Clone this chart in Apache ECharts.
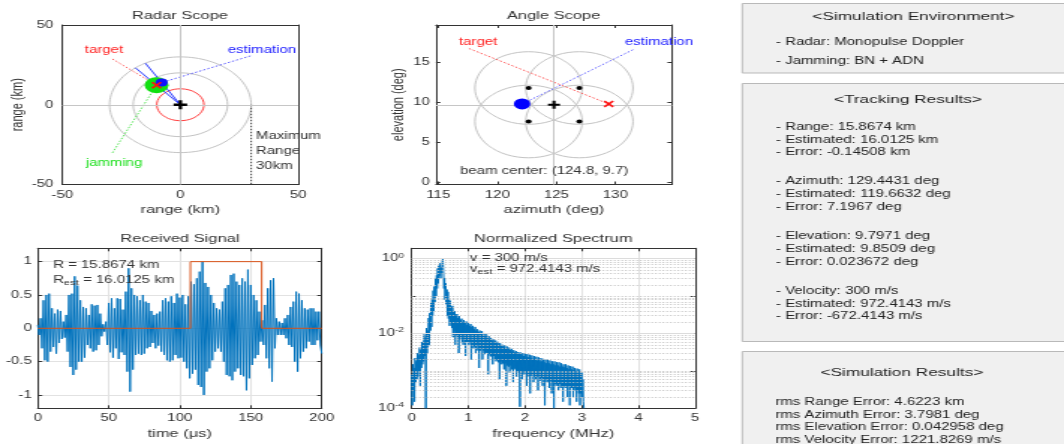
<!DOCTYPE html>
<html>
<head>
<meta charset="utf-8">
<title>Monopulse radar tracking</title>
<script src="https://cdn.jsdelivr.net/npm/echarts@6.0.0/dist/echarts.min.js"></script>
<style>
html, body { margin: 0; padding: 0; background: #fff; overflow: hidden; }
/* the source figure is stretched 1.5x horizontally, so draw at 710 wide and stretch */
#main { position: absolute; left: 0; top: 0; width: 710px; height: 444px; transform: scaleX(1.49859); transform-origin: 0 0; }
</style>
</head>
<body>
<div id="main"></div>
<script>
var FONT = '"Liberation Sans", Arial, sans-serif';
var INK = '#333333';

// ---- radar scope (km, deg) ----
var rangeRings = [10, 20, 30];
var ringColors = ['#ff4040', '#c4c4c4', '#c4c4c4'];
var maxRange = 30;
var radarLim = 50;
var targetRange = 15.8674, targetAz = 129.4431;
var estRange = 16.0125, estAz = 119.6632;

// ---- angle scope (deg) ----
var beamCenter = [124.8, 9.7];
var beamSquint = [[-2.15, 2.1], [2.15, 2.1], [-2.15, -2.1], [2.15, -2.1]];
var beamRadius = 4.55;
var angleTarget = [129.4431, 9.7971];
var angleEst = [122.1, 9.8];

// ---- received signal, one sample per us ----
var sigDt = 1;
var signal = [
  0.05, -0.1, 0.15, -0.3, 0.42, -0.48, 0.5, -0.5, 0.52, -0.35,
  0.3, -0.28, 0.22, -0.38, 0.28, -0.22, 0.26, -0.16, 0.1, -0.14,
  0.2, -0.35, 0.5, -0.58, 0.52, -0.7, 0.78, -0.62, 0.64, -0.5,
  0.42, -0.5, 0.32, -0.44, 0.3, -0.25, 0.2, -0.3, 0.36, -0.35,
  0.34, -0.33, 0.35, -0.25, 0.22, -0.12, 0.06, -0.05, 0.1, -0.25,
  0.38, -0.36, 0.45, -0.44, 0.3, -0.3, 0.45, -0.46, 0.44, -0.36,
  0.28, -0.4, 0.55, -0.65, 0.9, -0.95, 0.6, -0.62, 0.5, -0.4,
  0.48, -0.38, 0.42, -0.4, 0.5, -0.38, 0.4, -0.3, 0.38, -0.28,
  0.26, -0.22, 0.2, -0.3, 0.22, -0.26, 0.25, -0.35, 0.42, -0.4,
  0.45, -0.48, 0.4, -0.5, 0.48, -0.48, 0.38, -0.4, 0.52, -0.45,
  0.46, -0.44, 0.5, -0.5, 0.36, -0.6, 0.48, -0.75, 0.7, -0.68,
  0.66, -0.62, 0.75, -0.85, 0.85, -0.88, 1.0, -1.0, 0.68, -0.65,
  0.62, -0.6, 0.5, -0.48, 0.38, -0.35, 0.3, -0.3, 0.28, -0.35,
  0.4, -0.5, 0.6, -0.7, 0.65, -0.72, 0.8, -0.78, 0.82, -0.65,
  0.7, -0.6, 0.65, -0.7, 0.75, -0.72, 0.7, -0.93, 0.88, -0.75,
  0.65, -0.55, 0.5, -0.45, 0.42, -0.4, 0.25, -0.2, 0.12, -0.25,
  0.35, -0.45, 0.6, -0.6, 0.72, -0.8, 0.75, -0.3, 0.15, -0.1,
  0.1, -0.1, 0.08, -0.1, 0.15, -0.15, 0.2, -0.25, 0.32, -0.28,
  0.4, -0.5, 0.55, -0.65, 0.52, -0.45, 0.42, -0.35, 0.3, -0.3,
  0.28, -0.2, 0.3, -0.25, 0.3, -0.25, 0.25, -0.18, 0.25, -0.25,
  -0.38
];
var pulseOn = 107.5, pulseOff = 157.7, sigEnd = 200;

// ---- normalized spectrum, every 0.01 MHz ----
var specDf = 0.01;
var spectrum = [
  8e-4, 1.2e-4, 1.5e-3, 3e-4, 1.2e-3, 1.5e-4, 2.2e-3, 5e-4, 1.8e-3, 6e-4,
  3e-3, 7e-4, 2.6e-3, 1e-3, 4.2e-3, 4e-4, 3.6e-3, 1.2e-3, 5.8e-3, 1.5e-3,
  6e-3, 1.8e-3, 9.5e-3, 2.5e-3, 8e-3, 1e-4, 1.4e-2, 3e-3, 1.2e-2, 4.5e-3,
  2.6e-2, 5e-3, 3.5e-2, 1.2e-2, 6.5e-2, 1.5e-2, 8e-2, 3e-2, 1.4e-1, 4e-2,
  1.8e-1, 7e-2, 3e-1, 1e-1, 3.6e-1, 1.6e-1, 5.5e-1, 2.2e-1, 6.5e-1, 3.5e-1,
  7.5e-1, 3e-1, 6e-1, 4e-1, 8.5e-1, 1.0, 4.5e-1, 1.6e-1, 3e-1, 8e-2,
  2.2e-1, 6e-2, 1.5e-1, 3e-2, 1.3e-1, 2.5e-2, 8e-2, 1.6e-2, 7.5e-2, 2e-2,
  5e-2, 1.4e-2, 5.5e-2, 8e-3, 4e-2, 1.2e-2, 4e-2, 5e-3, 3.2e-2, 9e-3,
  3.3e-2, 8e-3, 2.6e-2, 3e-3, 2.9e-2, 7e-3, 2.3e-2, 8e-3, 2.5e-2, 6e-3,
  2e-2, 5e-3, 2.3e-2, 7e-3, 1.9e-2, 2.5e-3, 2.1e-2, 6e-3, 1.7e-2, 6e-3,
  1.9e-2, 5e-3, 1.6e-2, 6e-3, 1.8e-2, 2e-3, 1.5e-2, 5e-3, 1.6e-2, 4e-3,
  1.3e-2, 4.5e-3, 1.5e-2, 3e-3, 1.2e-2, 5e-3, 1.3e-2, 3.5e-3, 1.1e-2, 1.2e-3,
  1.2e-2, 3.5e-3, 1e-2, 4e-3, 1.15e-2, 2e-3, 9e-3, 3.5e-3, 1e-2, 2.8e-3,
  8.5e-3, 3e-3, 9.5e-3, 3.2e-3, 7.5e-3, 8e-4, 8.5e-3, 2.8e-3, 7e-3, 2.5e-3,
  7.5e-3, 2.4e-3, 6.5e-3, 1.5e-3, 7e-3, 2.5e-3, 6e-3, 2e-3, 6.5e-3, 1.8e-3,
  5.5e-3, 2e-3, 6e-3, 1.7e-3, 5e-3, 6e-4, 5.5e-3, 1.8e-3, 4.6e-3, 1.5e-3,
  5e-3, 1.6e-3, 4.3e-3, 1.1e-3, 4.8e-3, 1.6e-3, 4e-3, 4e-4, 4.5e-3, 1.4e-3,
  3.8e-3, 1.3e-3, 4.2e-3, 9e-4, 3.6e-3, 1.4e-3, 3.9e-3, 1.1e-3, 3.3e-3, 5e-4,
  3.6e-3, 1.1e-3, 3.1e-3, 1.2e-3, 3.4e-3, 7e-4, 2.9e-3, 1e-3, 3.2e-3, 9e-4,
  2.8e-3, 1.1e-4, 3.1e-3, 1e-3, 2.6e-3, 6e-4, 3e-3, 9e-4, 2.5e-3, 8e-4,
  2.9e-3, 9e-4, 2.4e-3, 4e-4, 2.8e-3, 8e-4, 2.3e-3, 7e-4, 2.7e-3, 2.5e-4,
  2.2e-3, 7.5e-4, 2.6e-3, 8e-4, 2.1e-3, 5e-4, 2.5e-3, 7e-4, 2e-3, 6e-4,
  2.4e-3, 7e-4, 1.9e-3, 3e-4, 2.3e-3, 7e-4, 1.8e-3, 5.5e-4, 2.2e-3, 6.5e-4,
  1.8e-3, 4e-4, 2.1e-3, 6e-4, 1.7e-3, 1.2e-4, 2e-3, 6e-4, 1.6e-3, 5e-4,
  2e-3, 5.5e-4, 1.6e-3, 3.5e-4, 1.9e-3, 5.5e-4, 1.5e-3, 2.5e-4, 1.8e-3, 5e-4,
  1.5e-3, 1e-4, 1.8e-3, 4.5e-4, 1.4e-3, 4e-4, 1.7e-3, 4.5e-4, 1.4e-3, 3e-4,
  1.7e-3, 4.5e-4, 1.3e-3, 3.5e-4, 1.6e-3, 4e-4, 1.3e-3, 1.5e-4, 1.5e-3, 4e-4,
  1.25e-3, 3.5e-4, 1.5e-3, 4e-4, 1.2e-3, 2e-4, 1.4e-3, 4e-4, 1.1e-3, 1.2e-4,
  1.35e-3, 3.5e-4, 1.1e-3, 3.5e-4, 1.3e-3, 2e-4, 1.05e-3, 3.5e-4, 1.2e-3, 3e-4,
  1e-3, 1.5e-4, 1.15e-3, 3e-4, 9.5e-4, 2.5e-4, 1.1e-3, 1.2e-4, 8.5e-4, 2.5e-4,
  9e-4, 2e-4, 6e-4, 1.5e-4, 1e-4
];
var specMin = 1e-4, specMax = 1.9;

// ---- text panels ----
var envLines = ['- Radar: Monopulse Doppler', '- Jamming: BN + ADN'];
var trackGroups = [
  ['- Range: 15.8674 km', '- Estimated: 16.0125 km', '- Error: -0.14508 km'],
  ['- Azimuth: 129.4431 deg', '- Estimated: 119.6632 deg', '- Error: 7.1967 deg'],
  ['- Elevation: 9.7971 deg', '- Estimated: 9.8509 deg', '- Error: 0.023672 deg'],
  ['- Velocity: 300 m/s', '- Estimated: 972.4143 m/s', '- Error: -672.4143 m/s']
];
var rmsLines = ['rms Range Error: 4.6223 km', 'rms Azimuth Error: 3.7981 deg',
  'rms Elevation Error: 0.042958 deg', 'rms Velocity Error: 1221.8269 m/s'];

// ---------------------------------------------------------------
function rad(a) { return a * Math.PI / 180; }
function toXY(r, az) { return [r * Math.cos(rad(az)), r * Math.sin(rad(az))]; }
function circle(c, r) {
  var p = [];
  for (var a = 0; a <= 360; a += 3) p.push([c[0] + r * Math.cos(rad(a)), c[1] + r * Math.sin(rad(a))]);
  return p;
}
function merge(a, b) {
  var o = {}, k;
  for (k in a) o[k] = a[k];
  for (k in b) {
    if (b[k] && typeof b[k] === 'object' && !Array.isArray(b[k]) && typeof b[k] !== 'function' &&
        a[k] && typeof a[k] === 'object') o[k] = merge(a[k], b[k]);
    else o[k] = b[k];
  }
  return o;
}

var X_MARK = 'path://M0,1.6L1.6,0L5,3.4L8.4,0L10,1.6L6.6,5L10,8.4L8.4,10L5,6.6L1.6,10L0,8.4L3.4,5Z';
var PLUS = 'path://M3.7,0H6.3V3.7H10V6.3H6.3V10H3.7V6.3H0V3.7H3.7Z';

function frameAxis(gi, pos, labelled) {
  return {
    gridIndex: gi, type: 'value', position: pos,
    axisLine: { show: true, onZero: false, lineStyle: { color: INK, width: 1 } },
    axisTick: { show: true, inside: true, length: 3, lineStyle: { color: INK } },
    axisLabel: { show: labelled, color: INK, fontSize: 10, fontFamily: FONT, margin: 5 },
    splitLine: { show: false },
    nameLocation: 'middle', nameGap: 20,
    nameTextStyle: { color: INK, fontSize: 11, fontFamily: FONT }
  };
}
function scaleOnly(o) {
  var r = {};
  ['type', 'logBase', 'min', 'max', 'interval', 'splitNumber'].forEach(function (k) {
    if (o[k] !== undefined) r[k] = o[k];
  });
  return r;
}
var xAxes = [], yAxes = [];
function addAxes(gi, xo, yo) {
  xAxes.push(merge(frameAxis(gi, 'bottom', true), xo));
  xAxes.push(merge(frameAxis(gi, 'top', false), scaleOnly(xo)));
  yAxes.push(merge(frameAxis(gi, 'left', true), yo));
  yAxes.push(merge(frameAxis(gi, 'right', false), scaleOnly(yo)));
}
var gridLine = { show: true, showMinLine: false, showMaxLine: false, lineStyle: { color: '#e2e2e2', width: 1 } };

addAxes(0,
  { min: -radarLim, max: radarLim, interval: 50, name: 'range (km)', nameGap: 20, axisLabel: { margin: 6 } },
  { min: -radarLim, max: radarLim, interval: 50, name: 'range (km)', nameGap: 22, axisLabel: { margin: 6 } });
addAxes(1,
  { min: beamCenter[0] - 10, max: beamCenter[0] + 10, splitNumber: 4, name: 'azimuth (deg)', nameGap: 20,
    axisLabel: { showMinLabel: false, showMaxLabel: false, margin: 6 } },
  { min: beamCenter[1] - 10, max: beamCenter[1] + 10, splitNumber: 4, name: 'elevation (deg)', nameGap: 17,
    axisLabel: { showMinLabel: false, showMaxLabel: false, margin: 4 } });
addAxes(2,
  { min: 0, max: sigEnd, interval: 50, name: 'time (\u03bcs)', nameGap: 20, splitLine: gridLine },
  { min: -1.2, max: 1.2, splitNumber: 5, splitLine: gridLine,
    axisLabel: { showMinLabel: false, showMaxLabel: false, margin: 4 } });
addAxes(3,
  { min: 0, max: 5, interval: 1, name: 'frequency (MHz)', nameGap: 20, splitLine: gridLine },
  { type: 'log', logBase: 10, min: specMin, max: specMax,
    axisLabel: {
      showMaxLabel: false, margin: 5,
      formatter: function (v) {
        var e = Math.log10(v), r = Math.round(e);
        if (Math.abs(e - r) > 1e-6 || r % 2 !== 0) return '';
        return '10{sup|' + r + '}';
      },
      rich: { sup: { fontSize: 7, fontFamily: FONT, color: INK, padding: [0, 0, 6, 0] } }
    } });

function crosshair(list) {
  return { silent: true, symbol: 'none', label: { show: false },
    lineStyle: { color: '#c6c6c6', type: 'solid', width: 1 }, data: list };
}
function leader(ax, from, to, color) {
  return { type: 'line', xAxisIndex: ax, yAxisIndex: ax, data: [from, to], showSymbol: false, silent: true, z: 3,
    lineStyle: { color: color, width: 1, type: [1.5, 1.5], opacity: 0.8 } };
}
function marker(ax, pts, symbol, size, color, z) {
  return { type: 'scatter', xAxisIndex: ax, yAxisIndex: ax, data: pts, symbol: symbol, symbolSize: size,
    silent: true, z: z, itemStyle: { color: color, opacity: 1 } };
}

var series = [];
var tgtXY = toXY(targetRange, targetAz), estXY = toXY(estRange, estAz);

// radar scope
rangeRings.forEach(function (r, i) {
  var s = { type: 'line', xAxisIndex: 0, yAxisIndex: 0, data: circle([0, 0], r), showSymbol: false, silent: true,
    z: 2, lineStyle: { color: ringColors[i], width: 1 } };
  if (i === 0) s.markLine = crosshair([{ xAxis: 0 }, { yAxis: 0 }]);
  series.push(s);
});
series.push({ type: 'line', xAxisIndex: 0, yAxisIndex: 0, data: [[maxRange, 0], [maxRange, -radarLim]],
  showSymbol: false, silent: true, lineStyle: { color: '#444', width: 1, type: [1.5, 1.5] } });
[targetAz, estAz].forEach(function (az) {
  series.push({ type: 'line', xAxisIndex: 0, yAxisIndex: 0, data: [[0, 0], toXY(maxRange, az)],
    showSymbol: false, silent: true, z: 3, lineStyle: { color: '#2b3cff', width: 1 } });
});
series.push(leader(0, [-28.8, 28.7], tgtXY, '#ff3030'));
series.push(leader(0, [29.7, 30.6], estXY, '#3a3aff'));
series.push(leader(0, [-28.8, -30.2], tgtXY, '#30e030'));
series.push(marker(0, [tgtXY], 'circle', 16, '#11e011', 4));
series.push(marker(0, [estXY], 'circle', 8, '#1010ff', 5));
series.push(marker(0, [tgtXY], X_MARK, 7, '#ff1010', 6));
series.push(marker(0, [[0, 0]], PLUS, 9, '#000', 6));

// angle scope
beamSquint.forEach(function (o, i) {
  var s = { type: 'line', xAxisIndex: 2, yAxisIndex: 2,
    data: circle([beamCenter[0] + o[0], beamCenter[1] + o[1]], beamRadius),
    showSymbol: false, silent: true, z: 2, lineStyle: { color: '#c4c4c4', width: 1 } };
  if (i === 0) s.markLine = crosshair([{ xAxis: beamCenter[0] }, { yAxis: beamCenter[1] }]);
  series.push(s);
});
series.push(leader(2, [117.6, 16.75], angleTarget, '#ff3030'));
series.push(leader(2, [131.5, 16.6], angleEst, '#3a3aff'));
series.push(marker(2, beamSquint.map(function (o) { return [beamCenter[0] + o[0], beamCenter[1] + o[1]]; }),
  'circle', 4, '#000', 4));
series.push(marker(2, [beamCenter], PLUS, 8, '#000', 5));
series.push(marker(2, [angleEst], 'circle', 11, '#0000ff', 5));
series.push(marker(2, [angleTarget], X_MARK, 7, '#ff1010', 6));

// received signal + range gate
series.push({ type: 'line', xAxisIndex: 4, yAxisIndex: 4, showSymbol: false, silent: true, z: 2,
  data: signal.map(function (v, i) { return [i * sigDt, v]; }),
  lineStyle: { color: '#0072BD', width: 1 } });
series.push({ type: 'line', xAxisIndex: 4, yAxisIndex: 4, showSymbol: false, silent: true, z: 3,
  data: [[0, 0], [pulseOn, 0], [pulseOn, 1], [pulseOff, 1], [pulseOff, 0], [sigEnd, 0]],
  lineStyle: { color: '#D95319', width: 1 } });

// spectrum grid (major decades solid, minor dotted)
var specGrid = [];
[-4, -3, -2, -1, 0].forEach(function (e) {
  for (var k = 1; k <= 9; k++) {
    var v = k * Math.pow(10, e);
    if (v > specMax || v <= specMin) continue;
    var major = k === 1 && e % 2 === 0;
    specGrid.push({ yAxis: v, lineStyle: major ? { type: 'solid', color: '#dcdcdc' } : { type: [1, 1.5], color: '#c2c2c2' } });
  }
});
series.push({ type: 'line', xAxisIndex: 6, yAxisIndex: 6, data: [], z: 1, silent: true,
  markLine: { silent: true, precision: 10, symbol: 'none', label: { show: false }, lineStyle: { width: 1 }, data: specGrid } });
series.push({ type: 'line', xAxisIndex: 6, yAxisIndex: 6, showSymbol: false, silent: true, z: 2,
  data: spectrum.map(function (v, i) { return [i * specDf, v]; }),
  lineStyle: { color: '#0072BD', width: 1 } });

// ---- text & panels ----
function txt(x, y, s, o) {
  o = o || {};
  return { type: 'text', x: x, y: y, z: 100, silent: true,
    style: { text: s, fill: o.color || INK, font: (o.size || 10) + 'px ' + FONT,
      align: o.align || 'left', verticalAlign: 'middle', rich: o.rich } };
}
var subRich = { sub: { fontSize: 7.5, fontFamily: FONT, fill: INK, padding: [6, 0, 0, 0] } };
var g = [];
g.push(txt(120.1, 16, 'Radar Scope', { size: 11, align: 'center' }));
g.push(txt(369.4, 16, 'Angle Scope', { size: 11, align: 'center' }));
g.push(txt(120.1, 239, 'Received Signal', { size: 11, align: 'center' }));
g.push(txt(369.2, 238.5, 'Normalized Spectrum', { size: 11, align: 'center' }));

g.push(txt(69.4, 50, 'target', { color: '#ff2020', align: 'center' }));
g.push(txt(174.8, 50, 'estimation', { color: '#2020ff', align: 'center' }));
g.push(txt(76.1, 163, 'jamming', { color: '#20e020', align: 'center' }));
['Maximum', 'Range', maxRange + 'km'].forEach(function (s, i) { g.push(txt(170.8, 136 + i * 15, s)); });

g.push(txt(319, 42, 'target', { color: '#ff2020', align: 'center' }));
g.push(txt(439.7, 42, 'estimation', { color: '#2020ff', align: 'center' }));
g.push(txt(307, 171, 'beam center: (' + beamCenter[0] + ', ' + beamCenter[1] + ')'));

g.push(txt(35.4, 265.7, 'R = 15.8674 km'));
g.push(txt(35.4, 280, 'R{sub|est} = 16.0125 km', { rich: subRich }));
g.push(txt(313.6, 258.3, 'v = 300 m/s'));
g.push(txt(313.6, 268.8, 'v{sub|est} = 972.4143 m/s', { rich: subRich }));

function panel(y, h) {
  return { type: 'rect', shape: { x: 495.3, y: y, width: 230, height: h }, z: 50, silent: true,
    style: { fill: '#f0f0f0', stroke: '#b9b9b9', lineWidth: 1 } };
}
g.push(panel(3.5, 69.5));
g.push(panel(83.5, 258));
g.push(panel(351.5, 100));
g.push(txt(609.5, 17, '<Simulation Environment>', { size: 11.5, align: 'center', color: '#222' }));
envLines.forEach(function (s, i) { g.push(txt(517.8, 42 + i * 19, s, { color: '#222' })); });
g.push(txt(605.8, 100, '<Tracking Results>', { size: 11.5, align: 'center', color: '#222' }));
trackGroups.forEach(function (grp, gi) {
  grp.forEach(function (s, i) { g.push(txt(517.8, 127 + gi * 54.7 + i * 12.8, s, { color: '#222' })); });
});
g.push(txt(601.8, 373, '<Simulation Results>', { size: 11.5, align: 'center', color: '#222' }));
rmsLines.forEach(function (s, i) { g.push(txt(517.4, 402 + i * 12.8, s, { color: '#222' })); });

var chart = echarts.init(document.getElementById('main'));
chart.setOption({
  animation: false,
  backgroundColor: '#ffffff',
  grid: [
    { left: 41.6, top: 25, width: 157.5, height: 159.5, outerBoundsMode: 'none' },
    { left: 290.9, top: 25, width: 157.5, height: 159.5, outerBoundsMode: 'none' },
    { left: 25.2, top: 248.3, width: 189.5, height: 160, outerBoundsMode: 'none' },
    { left: 274.7, top: 248.3, width: 189.1, height: 160, outerBoundsMode: 'none' }
  ],
  xAxis: xAxes,
  yAxis: yAxes,
  series: series,
  graphic: { elements: g }
});
</script>
</body>
</html>
